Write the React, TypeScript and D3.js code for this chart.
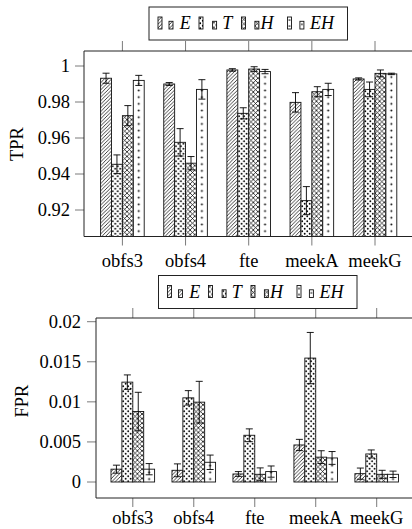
import React, { useRef, useEffect } from "react";
import * as d3 from "d3";

const categories = ["obfs3", "obfs4", "fte", "meekA", "meekG"];
const seriesLabels = ["E", "T", "H", "EH"];
const patternIds = ["p-lines", "p-dots", "p-cross", "p-sparse"];

// TPR (mean, error)
const tprE = [0.9932, 0.99, 0.9978, 0.9798, 0.9928];
const tprEErr = [0.0028, 0.0008, 0.0007, 0.0054, 0.0006];
const tprT = [0.9454, 0.9576, 0.9737, 0.9252, 0.987];
const tprTErr = [0.0052, 0.0076, 0.0031, 0.0078, 0.0041];
const tprH = [0.9724, 0.946, 0.9983, 0.9857, 0.9959];
const tprHErr = [0.0056, 0.0037, 0.0013, 0.0028, 0.0019];
const tprEH = [0.992, 0.987, 0.9969, 0.987, 0.9956];
const tprEHErr = [0.0028, 0.0054, 0.0012, 0.0034, 0.0004];

// FPR (mean, error)
const fprE = [0.0016, 0.00146, 0.001, 0.00462, 0.00104];
const fprEErr = [0.0005, 0.0008, 0.0003, 0.0007, 0.0007];
const fprT = [0.01246, 0.0105, 0.00583, 0.01546, 0.0035];
const fprTErr = [0.0009, 0.0009, 0.0008, 0.0032, 0.0005];
const fprH = [0.00879, 0.00996, 0.00096, 0.0031, 0.00096];
const fprHErr = [0.0024, 0.0026, 0.0008, 0.0008, 0.0005];
const fprEH = [0.0016, 0.00246, 0.0013, 0.003, 0.00096];
const fprEHErr = [0.0007, 0.0009, 0.0007, 0.0008, 0.0004];

const tprTicks = [0.92, 0.94, 0.96, 0.98, 1];
const tprTickLabels = ["0.92", "0.94", "0.96", "0.98", "1"];
const fprTicks = [0, 0.005, 0.01, 0.015, 0.02];
const fprTickLabels = ["0", "0.005", "0.01", "0.015", "0.02"];

const FONT = "Liberation Serif, DejaVu Serif, serif";
const W = 412;
const H = 529;
const barW = 10.9;

type Panel = {
  title: string;
  values: number[][];
  errors: number[][];
  ticks: number[];
  tickLabels: string[];
  yDomain: [number, number];
  yRange: [number, number];
  xRange: [number, number];
  box: { left: number; top: number; bottom: number };
  base: number; // y of bar base
  labelX: number; // right end of y tick labels
  titleX: number;
  titleY: number;
  catBaseline: number;
  legend: { x: number; y: number };
};

const panels: Panel[] = [
  {
    title: "TPR",
    values: [tprE, tprT, tprH, tprEH],
    errors: [tprEErr, tprTErr, tprHErr, tprEHErr],
    ticks: tprTicks,
    tickLabels: tprTickLabels,
    yDomain: [0.92, 1],
    yRange: [210, 66],
    xRange: [122.4, 375],
    box: { left: 84, top: 51, bottom: 236.5 },
    base: 236.5,
    labelX: 70,
    titleX: 23,
    titleY: 144,
    catBaseline: 266.5,
    legend: { x: 149, y: 7 },
  },
  {
    title: "FPR",
    values: [fprE, fprT, fprH, fprEH],
    errors: [fprEErr, fprTErr, fprHErr, fprEHErr],
    ticks: fprTicks,
    tickLabels: fprTickLabels,
    yDomain: [0, 0.02],
    yRange: [482, 321.7],
    xRange: [132.8, 376.7],
    box: { left: 96, top: 318, bottom: 498 },
    base: 482,
    labelX: 81,
    titleX: 28,
    titleY: 401,
    catBaseline: 524,
    legend: { x: 158.5, y: 275.5 },
  },
];

// legend layout: entry offsets inside box
const legendEntryX = [9, 50, 92.5, 138.5];
const legendTextDX = [21.7, 23.3, 19, 22.4];
const legendSmallDX = [11, 13.6, 13.4, 12.4];

const App: React.FC = () => {
  const svgRef = useRef<SVGSVGElement | null>(null);

  useEffect(() => {
    if (!svgRef.current) return;
    const svg = d3.select(svgRef.current);
    svg.selectAll("*").remove();

    const defs = svg.append("defs");

    // north east lines
    const pl = defs
      .append("pattern")
      .attr("id", "p-lines")
      .attr("patternUnits", "userSpaceOnUse")
      .attr("width", 3.6)
      .attr("height", 3.6);
    pl.append("path")
      .attr("d", "M-1,1 L1,-1 M0,3.6 L3.6,0 M2.6,4.6 L4.6,2.6")
      .attr("stroke", "#000")
      .attr("stroke-width", 0.75);

    // dense dots
    const pd = defs
      .append("pattern")
      .attr("id", "p-dots")
      .attr("patternUnits", "userSpaceOnUse")
      .attr("width", 5)
      .attr("height", 5);
    pd.append("circle").attr("cx", 1.25).attr("cy", 1.25).attr("r", 0.9).attr("fill", "#000");
    pd.append("circle").attr("cx", 3.75).attr("cy", 3.75).attr("r", 0.9).attr("fill", "#000");

    // crosshatch
    const pc = defs
      .append("pattern")
      .attr("id", "p-cross")
      .attr("patternUnits", "userSpaceOnUse")
      .attr("width", 4.6)
      .attr("height", 4.6);
    pc.append("path")
      .attr("d", "M0,0 L4.6,4.6 M0,4.6 L4.6,0")
      .attr("stroke", "#000")
      .attr("stroke-width", 0.75);

    // sparse dots, column at bar centre
    const ps = defs
      .append("pattern")
      .attr("id", "p-sparse")
      .attr("patternUnits", "userSpaceOnUse")
      .attr("width", barW)
      .attr("height", 6.7);
    ps.append("circle").attr("cx", barW / 2).attr("cy", 3.3).attr("r", 0.95).attr("fill", "#000");

    const psl = defs
      .append("pattern")
      .attr("id", "p-sparse-leg")
      .attr("patternUnits", "userSpaceOnUse")
      .attr("width", 4)
      .attr("height", 6);
    psl.append("circle").attr("cx", 2).attr("cy", 3).attr("r", 0.85).attr("fill", "#000");

    panels.forEach((p, pi) => {
      const g = svg.append("g");
      const y = d3.scaleLinear().domain(p.yDomain).range(p.yRange);
      const x = d3.scalePoint<string>().domain(categories).range(p.xRange);
      const clipId = `clip-${pi}`;

      defs
        .append("clipPath")
        .attr("id", clipId)
        .append("rect")
        .attr("x", p.box.left)
        .attr("y", p.box.top)
        .attr("width", W - p.box.left + 10)
        .attr("height", p.box.bottom - p.box.top);

      // ticks
      const tickColor = "#7a7a7a";
      categories.forEach((c) => {
        const cx = x(c) as number;
        g.append("line")
          .attr("x1", cx).attr("x2", cx)
          .attr("y1", p.box.bottom).attr("y2", p.box.bottom + 9)
          .attr("stroke", tickColor).attr("stroke-width", 1);
        g.append("line")
          .attr("x1", cx).attr("x2", cx)
          .attr("y1", p.box.top).attr("y2", p.box.top - 10)
          .attr("stroke", tickColor).attr("stroke-width", 1);
        g.append("text")
          .attr("x", cx)
          .attr("y", p.catBaseline)
          .attr("text-anchor", "middle")
          .attr("font-family", FONT)
          .attr("font-size", 18.5)
          .text(c);
      });

      p.ticks.forEach((t, i) => {
        const ty = y(t);
        g.append("line")
          .attr("x1", p.box.left - 9).attr("x2", p.box.left)
          .attr("y1", ty).attr("y2", ty)
          .attr("stroke", tickColor).attr("stroke-width", 1);
        g.append("text")
          .attr("x", p.labelX)
          .attr("y", ty)
          .attr("dy", "0.34em")
          .attr("text-anchor", "end")
          .attr("font-family", FONT)
          .attr("font-size", 18.5)
          .text(p.tickLabels[i]);
      });

      // axis title
      g.append("text")
        .attr("transform", `translate(${p.titleX},${p.titleY}) rotate(-90)`)
        .attr("text-anchor", "middle")
        .attr("font-family", FONT)
        .attr("font-size", 18.5)
        .text(p.title);

      // bars
      const bars = g.append("g").attr("clip-path", `url(#${clipId})`);
      p.values.forEach((vals, si) => {
        vals.forEach((v, ci) => {
          const x0 = (x(categories[ci]) as number) + (si - 2) * barW;
          const bg = bars.append("g").attr("transform", `translate(${x0},0)`);
          const top = y(v);
          bg.append("rect")
            .attr("x", 0)
            .attr("y", top)
            .attr("width", barW)
            .attr("height", Math.max(0, p.base - top))
            .attr("fill", "#fff");
          bg.append("rect")
            .attr("x", 0)
            .attr("y", top)
            .attr("width", barW)
            .attr("height", Math.max(0, p.base - top))
            .attr("fill", `url(#${patternIds[si]})`)
            .attr("stroke", "#111")
            .attr("stroke-width", 0.9);
        });
      });

      // error bars
      p.values.forEach((vals, si) => {
        vals.forEach((v, ci) => {
          const cx = (x(categories[ci]) as number) + (si - 1.5) * barW;
          const e = p.errors[si][ci];
          const y1 = y(v + e);
          const y2 = y(v - e);
          bars.append("line")
            .attr("x1", cx).attr("x2", cx).attr("y1", y1).attr("y2", y2)
            .attr("stroke", "#000").attr("stroke-width", 0.9);
          [y1, y2].forEach((yy) => {
            bars.append("line")
              .attr("x1", cx - 3.5).attr("x2", cx + 3.5).attr("y1", yy).attr("y2", yy)
              .attr("stroke", "#000").attr("stroke-width", 0.9);
          });
        });
      });

      // box (right side lies outside the picture)
      g.append("path")
        .attr("d", `M${W + 10},${p.box.top} H${p.box.left} V${p.box.bottom} H${W + 10}`)
        .attr("fill", "none")
        .attr("stroke", "#222")
        .attr("stroke-width", 1);

      // legend
      const lg = g.append("g").attr("transform", `translate(${p.legend.x},${p.legend.y})`);
      lg.append("rect")
        .attr("x", 0).attr("y", 0).attr("width", 198.5).attr("height", 33)
        .attr("fill", "#fff").attr("stroke", "#222").attr("stroke-width", 1);
      seriesLabels.forEach((lab, si) => {
        const ex = legendEntryX[si];
        const pat = si === 3 ? "p-sparse-leg" : patternIds[si];
        [
          { dx: 0, h: 12 },
          { dx: legendSmallDX[si], h: 7.7 },
        ].forEach((s) => {
          const sg = lg.append("g").attr("transform", `translate(${ex + s.dx},${22 - s.h})`);
          sg.append("rect")
            .attr("x", 0).attr("y", 0).attr("width", 4).attr("height", s.h)
            .attr("fill", "#fff");
          sg.append("rect")
            .attr("x", 0).attr("y", 0).attr("width", 4).attr("height", s.h)
            .attr("fill", `url(#${pat})`)
            .attr("stroke", "#111").attr("stroke-width", 0.9);
        });
        lg.append("text")
          .attr("x", ex + legendTextDX[si])
          .attr("y", 22)
          .attr("font-family", FONT)
          .attr("font-style", "italic")
          .attr("font-size", 18)
          .text(lab);
      });
    });
  }, []);

  return (
    <div style={{ position: "absolute", left: 0, top: 0 }}>
      <svg ref={svgRef} width={W} height={H} style={{ display: "block", background: "#fff" }} />
    </div>
  );
};

export default App;
